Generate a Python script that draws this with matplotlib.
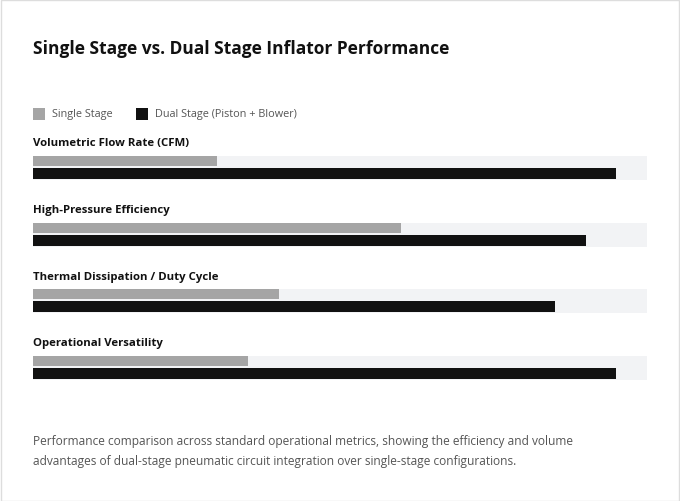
import matplotlib.pyplot as plt
from matplotlib.patches import Rectangle

# data
metrics = ["Volumetric Flow Rate (CFM)", "High-Pressure Efficiency",
           "Thermal Dissipation / Duty Cycle", "Operational Versatility"]
single_stage = [30, 60, 40, 35]
dual_stage = [95, 90, 85, 95]
series_names = ["Single Stage", "Dual Stage (Piston + Blower)"]

title = "Single Stage vs. Dual Stage Inflator Performance"
caption = ("Performance comparison across standard operational metrics, showing the efficiency and volume\n"
           "advantages of dual-stage pneumatic circuit integration over single-stage configurations.")

GRAY = "#a5a5a5"
BLACK = "#111111"
TRACK = "#f2f3f5"

plt.rcParams['font.family'] = ['Open Sans', 'DejaVu Sans']

W, H = 680, 502
fig = plt.figure(figsize=(W / 100, H / 100), dpi=100)
fig.patch.set_facecolor("white")

# light frame round the card
fig.add_artist(Rectangle((0.5 / W, 0.5 / H), 1 - 1.5 / W, 1 - 1.5 / H, transform=fig.transFigure,
                         fill=False, edgecolor="#dddddd", linewidth=1))

def fx(px):
    return px / W

def fy(py):
    return 1 - py / H

# title + legend
fig.text(fx(33), fy(49), title, fontsize=12.55, fontweight="bold", color="#111111", va="center")
for sx, tx, col, name in [(33, 52, GRAY, series_names[0]), (136, 155, BLACK, series_names[1])]:
    fig.add_artist(Rectangle((fx(sx), fy(121)), 12 / W, 12 / H, transform=fig.transFigure,
                             facecolor=col, edgecolor="none"))
    fig.text(fx(tx), fy(115), name, fontsize=7.85, color="#555555", va="center")

# bars
row = 66.67
top, bottom = 131, 131 + 4 * row
ax = fig.add_axes([fx(33), fy(bottom), fx(647) - fx(33), (bottom - top) / H])
ax.set_xlim(0, 100)
ax.set_ylim(len(metrics), 0)
ax.axis("off")

ys = list(range(len(metrics)))
ax.barh([y + 0.57 for y in ys], [100] * len(metrics), height=0.36, color=TRACK, edgecolor="none")
ax.barh([y + 0.465 for y in ys], single_stage, height=0.15, color=GRAY, edgecolor="none")
ax.barh([y + 0.6525 for y in ys], dual_stage, height=0.165, color=BLACK, edgecolor="none")
for y, m in zip(ys, metrics):
    ax.text(0, y + 0.19, m, fontsize=8.2, fontweight="bold", color="#111111",
            va="center", ha="left", clip_on=False)

fig.text(fx(33), fy(452), caption, fontsize=8.6, color="#555555", va="center", linespacing=1.7)

fig.savefig("out.png", dpi=100)
